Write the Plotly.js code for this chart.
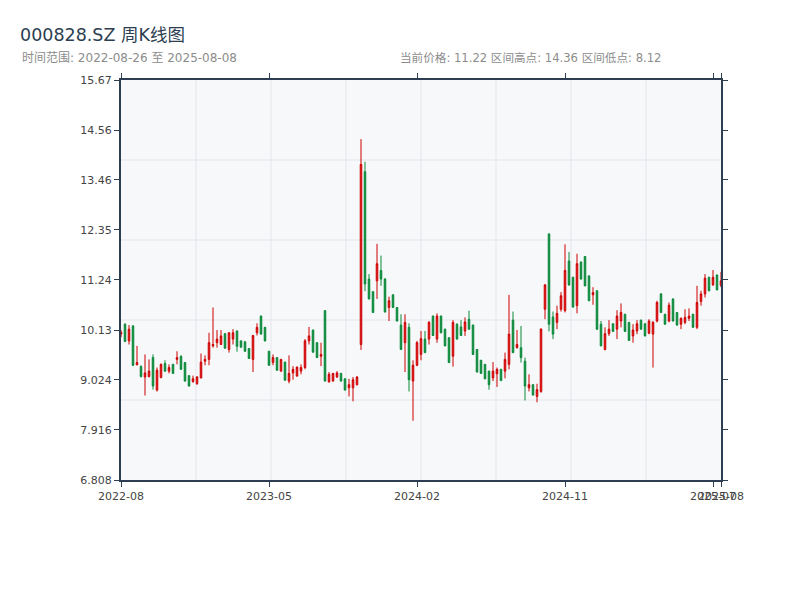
<!DOCTYPE html>
<html>
<head>
<meta charset="utf-8">
<script src="https://cdn.plot.ly/plotly-3.0.1.min.js"></script>
<style>html,body{margin:0;padding:0;background:#fff}#chart{width:800px;height:600px}</style>
</head>
<body>
<div id="chart"></div>
<script>
// Weekly dates (holiday weeks with no trading are absent)
const dates = [
'2022-08-26','2022-09-02','2022-09-09','2022-09-16','2022-09-23','2022-09-30','2022-10-14','2022-10-21','2022-10-28','2022-11-04',
'2022-11-11','2022-11-18','2022-11-25','2022-12-02','2022-12-09','2022-12-16','2022-12-23','2022-12-30',
'2023-01-06','2023-01-13','2023-01-20','2023-02-03','2023-02-10','2023-02-17','2023-02-24','2023-03-03','2023-03-10','2023-03-17',
'2023-03-24','2023-03-31','2023-04-07','2023-04-14','2023-04-21','2023-04-28','2023-05-05','2023-05-12','2023-05-19','2023-05-26',
'2023-06-02','2023-06-09','2023-06-16','2023-06-23','2023-06-30','2023-07-07','2023-07-14','2023-07-21','2023-07-28','2023-08-04',
'2023-08-11','2023-08-18','2023-08-25','2023-09-01','2023-09-08','2023-09-15','2023-09-22','2023-09-29','2023-10-13','2023-10-20',
'2023-10-27','2023-11-03','2023-11-10','2023-11-17','2023-11-24','2023-12-01','2023-12-08','2023-12-15','2023-12-22','2023-12-29',
'2024-01-05','2024-01-12','2024-01-19','2024-01-26','2024-02-02','2024-02-09','2024-02-23','2024-03-01','2024-03-08','2024-03-15',
'2024-03-22','2024-03-29','2024-04-05','2024-04-12','2024-04-19','2024-04-26','2024-05-03','2024-05-10','2024-05-17','2024-05-24',
'2024-05-31','2024-06-07','2024-06-14','2024-06-21','2024-06-28','2024-07-05','2024-07-12','2024-07-19','2024-07-26','2024-08-02',
'2024-08-09','2024-08-16','2024-08-23','2024-08-30','2024-09-06','2024-09-13','2024-09-20','2024-09-27','2024-10-04','2024-10-11',
'2024-10-18','2024-10-25','2024-11-01','2024-11-08','2024-11-15','2024-11-22','2024-11-29','2024-12-06','2024-12-13','2024-12-20',
'2024-12-27',
'2025-01-03','2025-01-10','2025-01-17','2025-01-24','2025-01-31','2025-02-07','2025-02-14','2025-02-21','2025-02-28','2025-03-07',
'2025-03-14','2025-03-21','2025-03-28','2025-04-04','2025-04-11','2025-04-18','2025-04-25','2025-05-02','2025-05-09','2025-05-16',
'2025-05-23','2025-05-30','2025-06-06','2025-06-13','2025-06-20','2025-06-27','2025-07-04','2025-07-11','2025-07-18','2025-07-25',
'2025-08-01','2025-08-08'
];

const openP = [
10.04,10.26,9.89,10.22,9.36,9.32,9.09,9.10,9.52,8.80,
9.08,9.39,9.22,9.37,9.48,9.55,9.41,9.12,8.99,8.94,
9.07,9.44,9.48,9.78,9.85,9.81,10.05,9.70,9.93,10.11,
9.89,9.87,9.72,9.48,10.07,10.44,10.19,9.66,9.41,9.52,
9.22,9.42,9.00,9.18,9.11,9.22,9.30,9.89,10.13,9.85,
9.55,10.56,8.98,9.00,9.09,9.17,9.05,8.85,8.85,8.92,
9.81,13.64,11.26,10.98,11.22,11.45,11.26,10.63,10.91,10.63,
10.24,9.85,10.19,9.00,9.35,9.59,9.93,9.93,10.44,9.93,
10.44,10.15,9.96,9.55,10.26,10.20,10.11,10.37,10.24,9.70,
9.46,9.37,9.22,9.07,9.16,9.26,9.22,9.37,10.35,9.74,
9.74,9.44,8.85,8.92,8.66,8.77,10.59,12.26,10.42,10.30,
10.59,10.56,11.66,11.30,10.67,11.63,11.76,11.33,10.91,11.00,
10.26,9.70,10.05,10.27,10.15,10.33,10.48,10.30,10.00,10.11,
10.35,10.27,10.06,10.04,10.33,10.93,10.48,10.33,10.82,10.52,
10.26,10.30,10.39,10.48,10.19,10.76,10.93,11.30,11.13,11.35,
11.12
];
const highP = [
10.13,10.28,10.24,10.24,9.78,9.35,9.59,9.48,9.59,9.30,
9.39,9.46,9.37,9.38,9.66,9.57,9.42,9.13,9.12,9.11,
9.61,9.57,10.07,10.63,10.13,10.13,10.06,10.08,10.15,10.12,
9.90,9.88,9.73,10.02,10.28,10.45,10.20,9.67,9.59,9.53,
9.49,9.43,9.57,9.33,9.32,9.37,9.93,10.20,10.14,9.86,
9.85,10.57,9.20,9.18,9.22,9.18,9.06,9.05,9.09,9.11,
14.36,13.86,11.37,10.99,12.04,11.78,11.28,10.87,10.92,10.64,
10.48,10.48,10.28,9.46,9.89,10.11,10.11,10.33,10.45,10.50,
10.45,10.16,9.97,10.35,10.28,10.35,10.41,10.56,10.25,9.71,
9.47,9.38,9.23,9.42,9.30,9.27,9.63,10.91,10.54,10.13,
10.22,9.52,9.15,8.93,8.94,10.17,11.15,12.27,10.54,10.67,
10.97,12.03,11.86,11.31,11.82,11.66,11.77,11.34,11.08,11.01,
10.33,10.19,10.35,10.28,10.57,10.72,10.49,10.31,10.26,10.35,
10.36,10.28,10.37,10.33,10.78,10.95,10.49,10.74,10.83,10.53,
10.41,10.59,10.61,10.49,11.11,11.00,11.37,11.31,11.46,11.36,
11.42
];
const lowP = [
9.97,9.86,9.81,9.33,9.35,9.08,8.68,9.08,8.81,8.77,
9.06,9.21,9.17,9.16,9.37,9.25,8.99,8.88,8.96,8.92,
9.06,9.35,9.35,9.74,9.74,9.80,9.71,9.63,9.81,9.65,
9.74,9.65,9.49,9.20,10.01,10.03,9.88,9.34,9.35,9.23,
9.21,9.01,8.95,9.03,9.10,9.15,9.26,9.81,9.63,9.51,
9.33,8.99,8.97,8.99,9.07,8.99,8.79,8.66,8.55,8.90,
9.69,10.99,10.81,10.51,10.82,11.11,10.52,10.33,10.62,10.32,
9.69,9.20,8.77,8.12,9.33,9.46,9.62,9.81,10.00,9.85,
10.06,9.77,9.40,9.32,9.92,10.00,10.00,10.14,9.58,9.19,
9.16,9.04,8.81,9.00,8.87,9.00,9.06,9.26,9.62,9.72,
9.41,8.57,8.77,8.68,8.53,8.74,10.37,10.10,9.93,10.15,
10.54,10.52,11.11,10.63,10.50,11.25,11.10,10.77,10.69,10.13,
9.77,9.68,10.00,10.09,9.93,10.19,10.09,9.89,9.85,10.04,
10.14,9.99,10.04,9.30,10.30,10.51,10.25,10.30,10.32,10.23,
10.15,10.26,10.33,10.18,10.15,10.67,10.85,10.99,11.11,11.01,
11.08
];
const closeP = [
10.08,9.88,10.15,9.35,9.41,9.10,9.18,9.22,8.89,9.24,
9.37,9.22,9.30,9.17,9.52,9.26,9.00,8.89,9.05,9.09,
9.42,9.48,9.85,9.81,9.93,10.00,9.73,10.07,10.07,9.77,
9.75,9.66,9.50,10.01,10.19,10.04,9.89,9.35,9.52,9.24,
9.48,9.02,9.17,9.26,9.31,9.30,9.89,10.00,9.64,9.52,
9.59,9.00,9.15,9.17,9.18,9.00,8.80,8.92,9.03,9.09,
13.80,11.15,10.82,10.52,11.60,11.26,10.53,10.78,10.63,10.33,
9.70,10.30,9.03,9.35,9.85,9.94,9.63,10.30,10.01,10.44,
10.07,9.78,9.41,10.30,9.93,10.01,10.31,10.15,9.59,9.20,
9.17,9.05,8.92,9.22,9.26,9.01,9.48,10.04,9.63,9.81,
9.52,8.89,8.92,8.69,8.81,10.15,11.13,10.26,10.04,10.50,
10.89,11.45,11.13,10.64,11.60,11.26,11.11,10.78,10.96,10.15,
9.78,10.05,10.15,10.10,10.44,10.52,10.10,9.90,10.13,10.27,
10.15,10.00,10.33,10.30,10.74,10.52,10.26,10.68,10.33,10.24,
10.39,10.41,10.44,10.19,10.74,10.93,11.28,11.00,11.30,11.02,
11.22
];

const yTickVals = [6.808, 7.916, 9.024, 10.13, 11.24, 12.35, 13.46, 14.56, 15.67];
const yTickText = ['6.808', '7.916', '9.024', '10.13', '11.24', '12.35', '13.46', '14.56', '15.67'];
const xTickIndex = [0, 37, 74, 111, 148, 150];

const titleText = '000828.SZ 周K线图';
const rangeText = '时间范围: 2022-08-26 至 2025-08-08';
const statsText = '当前价格: 11.22 区间高点: 14.36 区间低点: 8.12';

const xTickVals = xTickIndex.map(i => dates[i]);
const xTickText = xTickVals.map(d => d.slice(0, 7));

const FONT = 'DejaVu Sans, Noto Sans CJK SC, sans-serif';
const AXIS = '#2c3e50';

const shapes = [];
for (let k = 1; k < 8; k++) {
  shapes.push({type: 'line', xref: 'paper', yref: 'paper', x0: k / 8, x1: k / 8, y0: 0, y1: 1,
    layer: 'below', line: {color: '#e3e6eb', width: 1}});
}
for (let k = 1; k < 5; k++) {
  shapes.push({type: 'line', xref: 'paper', yref: 'paper', x0: 0, x1: 1, y0: k / 5, y1: k / 5,
    layer: 'below', line: {color: '#e3e6eb', width: 1}});
}

const trace = {
  type: 'candlestick',
  x: dates,
  open: openP, high: highP, low: lowP, close: closeP,
  increasing: {line: {color: '#cc0000', width: 1}, fillcolor: '#f0262e'},
  decreasing: {line: {color: '#0b8a3a', width: 1}, fillcolor: '#0b8a3a'},
  whiskerwidth: 0,
  showlegend: false
};

const layout = {
  width: 800, height: 600,
  margin: {l: 121, r: 79, t: 80, b: 120},
  paper_bgcolor: '#ffffff',
  plot_bgcolor: '#f7f8fa',
  font: {family: FONT, size: 11, color: '#444'},
  boxgap: 0.45,
  showlegend: false,
  title: {
    text: titleText, xref: 'container', yref: 'container',
    x: 20 / 800, xanchor: 'left', y: 1 - 35 / 600, yanchor: 'middle',
    font: {family: FONT, size: 17.5, color: '#2c3e50'}
  },
  annotations: [
    {text: rangeText, xref: 'paper', yref: 'paper', x: (20 - 121) / 600, y: (480 - 58) / 400,
     xanchor: 'left', yanchor: 'middle', showarrow: false, font: {family: FONT, size: 12, color: '#8c8c8c'}},
    {text: statsText, xref: 'paper', yref: 'paper', x: (398 - 121) / 600, y: (480 - 58) / 400,
     xanchor: 'left', yanchor: 'middle', showarrow: false, font: {family: FONT, size: 11.6, color: '#8c8c8c'}}
  ],
  shapes: shapes,
  xaxis: {
    type: 'category',
    range: [0, dates.length - 1],
    rangeslider: {visible: false},
    tickmode: 'array', tickvals: xTickVals, ticktext: xTickText, tickangle: 0,
    showgrid: false, zeroline: false,
    showline: true, linecolor: AXIS, linewidth: 2, mirror: 'ticks',
    ticks: 'outside', ticklen: 5, tickcolor: AXIS, tickwidth: 1,
    tickfont: {family: FONT, size: 11, color: '#444'}
  },
  yaxis: {
    range: [6.808, 15.67],
    tickmode: 'array', tickvals: yTickVals, ticktext: yTickText,
    showgrid: false, zeroline: false,
    showline: true, linecolor: AXIS, linewidth: 2, mirror: 'ticks',
    ticks: 'outside', ticklen: 5, tickcolor: AXIS, tickwidth: 1,
    tickfont: {family: FONT, size: 11, color: '#444'}
  }
};

Plotly.newPlot('chart', [trace], layout, {displayModeBar: false, staticPlot: true});
</script>
</body>
</html>
